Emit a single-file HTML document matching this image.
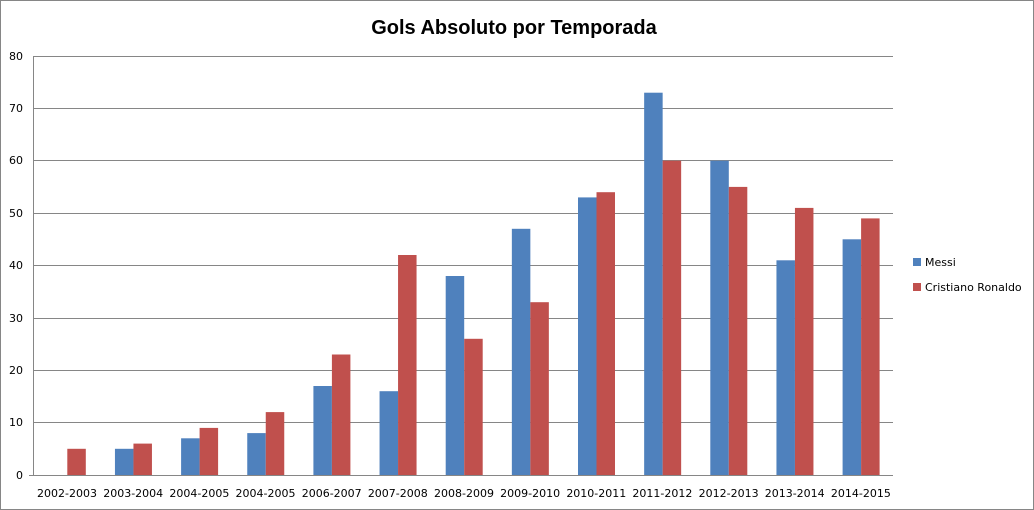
<!DOCTYPE html>
<html><head><meta charset="utf-8"><style>html,body{margin:0;padding:0;background:#fff}svg{display:block}text{font-family:"DejaVu Sans","Liberation Sans",sans-serif}</style></head>
<body>
<svg width="1034" height="510" viewBox="0 0 1034 510" xmlns="http://www.w3.org/2000/svg">
<rect x="0.5" y="0.5" width="1033" height="509" fill="#fff" stroke="#868686"/>
<text x="514" y="34" text-anchor="middle" font-size="20" font-weight="bold" style="font-family:'Liberation Sans',sans-serif">Gols Absoluto por Temporada</text>
<g stroke="#868686" stroke-width="1">
<line x1="34" x2="893" y1="56.5" y2="56.5"/><line x1="34" x2="893" y1="108.5" y2="108.5"/><line x1="34" x2="893" y1="160.5" y2="160.5"/><line x1="34" x2="893" y1="213.5" y2="213.5"/><line x1="34" x2="893" y1="265.5" y2="265.5"/><line x1="34" x2="893" y1="318.5" y2="318.5"/><line x1="34" x2="893" y1="370.5" y2="370.5"/><line x1="34" x2="893" y1="422.5" y2="422.5"/>
</g>
<g font-size="11" text-anchor="end">
<text x="23" y="60">80</text><text x="23" y="112">70</text><text x="23" y="164">60</text><text x="23" y="217">50</text><text x="23" y="269">40</text><text x="23" y="322">30</text><text x="23" y="374">20</text><text x="23" y="426">10</text><text x="23" y="479">0</text>
</g>
<g transform="translate(0,475) scale(1,-1)">
<g fill="#4F81BD">
<rect x="114.95" y="0" width="18.5" height="26.2"/><rect x="181.1" y="0" width="18.5" height="36.7"/><rect x="247.25" y="0" width="18.5" height="41.9"/><rect x="313.4" y="0" width="18.5" height="89"/><rect x="379.55" y="0" width="18.5" height="83.8"/><rect x="445.7" y="0" width="18.5" height="199"/><rect x="511.85" y="0" width="18.5" height="246.2"/><rect x="578" y="0" width="18.5" height="277.6"/><rect x="644.15" y="0" width="18.5" height="382.3"/><rect x="710.3" y="0" width="18.5" height="314.3"/><rect x="776.45" y="0" width="18.5" height="214.7"/><rect x="842.6" y="0" width="18.5" height="235.7"/>
</g>
<g fill="#C0504D">
<rect x="67.3" y="0" width="18.5" height="26.2"/><rect x="133.45" y="0" width="18.5" height="31.4"/><rect x="199.6" y="0" width="18.5" height="47.1"/><rect x="265.75" y="0" width="18.5" height="62.9"/><rect x="331.9" y="0" width="18.5" height="120.5"/><rect x="398.05" y="0" width="18.5" height="220"/><rect x="464.2" y="0" width="18.5" height="136.2"/><rect x="530.35" y="0" width="18.5" height="172.8"/><rect x="596.5" y="0" width="18.5" height="282.8"/><rect x="662.65" y="0" width="18.5" height="314.3"/><rect x="728.8" y="0" width="18.5" height="288.1"/><rect x="794.95" y="0" width="18.5" height="267.1"/><rect x="861.1" y="0" width="18.5" height="256.6"/>
</g>
</g>
<line x1="33.5" x2="33.5" y1="56" y2="476" stroke="#868686"/>
<line x1="29" x2="893" y1="475.5" y2="475.5" stroke="#868686"/>
<g font-size="11" text-anchor="middle">
<text x="67" y="497">2002-2003</text><text x="133.2" y="497">2003-2004</text><text x="199.4" y="497">2004-2005</text><text x="265.5" y="497">2004-2005</text><text x="331.7" y="497">2006-2007</text><text x="397.8" y="497">2007-2008</text><text x="464" y="497">2008-2009</text><text x="530.1" y="497">2009-2010</text><text x="596.3" y="497">2010-2011</text><text x="662.4" y="497">2011-2012</text><text x="728.6" y="497">2012-2013</text><text x="794.7" y="497">2013-2014</text><text x="860.9" y="497">2014-2015</text>
</g>
<rect x="913" y="258" width="8" height="8" fill="#4F81BD"/>
<rect x="913" y="283" width="8" height="8" fill="#C0504D"/>
<g font-size="11"><text x="925" y="266">Messi</text><text x="925" y="291">Cristiano Ronaldo</text></g>
</svg>
</body></html>
